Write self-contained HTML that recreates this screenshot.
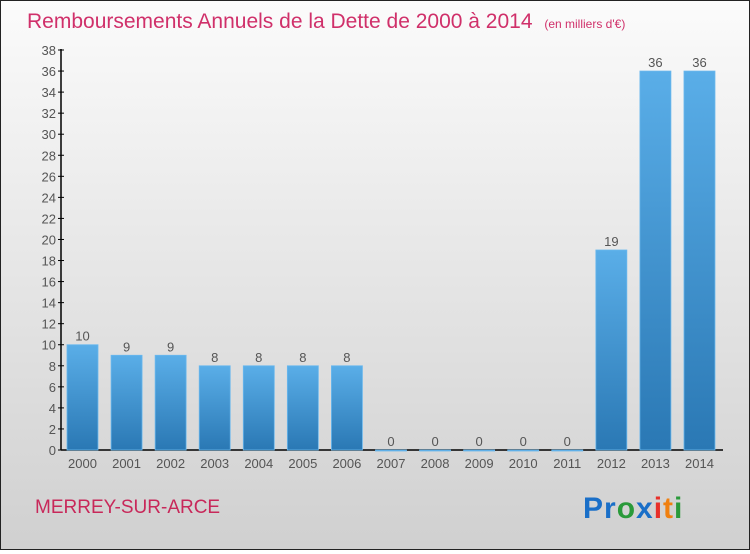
<!DOCTYPE html>
<html><head><meta charset="utf-8"><style>
body{margin:0;width:750px;height:550px;overflow:hidden;font-family:"Liberation Sans",sans-serif}
#c{position:relative;width:748px;height:548px;border:1px solid #222;background:linear-gradient(#fbfbfb,#d0d0d0)}
</style></head><body>
<div id="c">
<svg id="s" width="748" height="548" xmlns="http://www.w3.org/2000/svg">
<defs><linearGradient id="bg" x1="0" y1="0" x2="0" y2="1"><stop offset="0" stop-color="#5aaee8"/><stop offset="1" stop-color="#2a78b4"/></linearGradient></defs>
<text x="26" y="27" font-size="21" fill="#d0306a">Remboursements Annuels de la Dette de 2000 à 2014 <tspan font-size="12" dx="6">(en milliers d'€)</tspan></text>
<text x="34" y="512" font-size="19" fill="#c8285a">MERREY-SUR-ARCE</text>
<g font-size="30" font-weight="bold">
<text x="582" y="517" letter-spacing="1"><tspan fill="#1a6fc8">Pr</tspan><tspan fill="#2a9a3a">o</tspan><tspan fill="#1a6fc8">x</tspan><tspan fill="#e8302a">i</tspan><tspan fill="#f08010">t</tspan><tspan fill="#2a9a3a">i</tspan></text></g>
<g id="ax"></g><g id="bars"></g>
</svg></div>
<script>
const years=["2000","2001","2002","2003","2004","2005","2006","2007","2008","2009","2010","2011","2012","2013","2014"];
const values=[10,9,9,8,8,8,8,0,0,0,0,0,19,36,36];
const yTicks=[0,2,4,6,8,10,12,14,16,18,20,22,24,26,28,30,32,34,36,38];
const NS="http://www.w3.org/2000/svg";
const y=v=>449-v*400/38;
const x=i=>66+i*44.07;
function mk(t,a,p,txt){const e=document.createElementNS(NS,t);for(const k in a)e.setAttribute(k,a[k]);if(txt!==undefined)e.textContent=txt;p.appendChild(e);return e;}
const ax=document.getElementById('ax'),bars=document.getElementById('bars');
const yl=mk('line',{x1:60,y1:y(38)-1,x2:60,y2:y(0),stroke:'#000','stroke-width':1.5},ax);


const xl=mk('line',{x1:60,y1:y(0),x2:722,y2:y(0),stroke:'#000','stroke-width':1.5},ax);


yTicks.forEach(t=>{
 mk('line',{x1:57,x2:63,y1:y(t),y2:y(t),stroke:'#000'},ax);
 const l=mk('text',{x:55,y:y(t)+5,'text-anchor':'end','font-size':13,fill:'#555'},ax,t);
 
 
});
years.forEach((yr,i)=>{
 const v=values[i],bx=x(i);
 const r=mk('rect',{x:bx,y:y(v),width:31,height:Math.max(y(0)-y(v),1),fill:'url(#bg)',stroke:'#6ab8ee','stroke-width':0.8},bars);
 
 
 const vl=mk('text',{x:bx+15.5,y:y(v)-4,'text-anchor':'middle','font-size':13,fill:'#555'},bars,v);
 
 
 const xl2=mk('text',{x:bx+15.5,y:467,'text-anchor':'middle','font-size':13,fill:'#555'},ax,yr);
 
 
});
</script>
</body></html>
